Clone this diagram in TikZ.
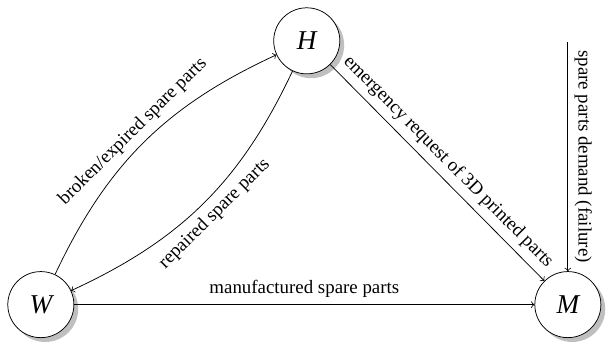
\documentclass[tikz,border=0pt]{standalone}
\usepackage{fontspec}
\setmainfont{Liberation Serif}
\usetikzlibrary{arrows,shapes,shadows}

\begin{document}
\begin{tikzpicture}[site/.style={circle,draw,fill=white,drop shadow,minimum size=1.23cm,font=\Large\itshape}]
\useasboundingbox (0,0) rectangle (11.28,6.40);
% Define the three sites

\node[site] (H) at (5.71,5.64) {H};
\node[site] (W) at (0.76,0.73) {W};
\node[site] (M) at (10.57,0.73) {M};
\path (10.57,5.62) coordinate (demand);

% Draw the flows between the sites
\draw[->] (W) to[bend left=20] node[above,sloped] {broken/expired spare parts} (H);
\draw[->] (H) to[bend left=20] node[below,sloped] {repaired spare parts} (W);
\draw[->] (H) -- node[above,sloped] {emergency request of 3D printed parts} (M);
\draw[->] (W) -- node[above] {manufactured spare parts} (M);

% Add the demand arrow
\draw[->] (demand) -- node[above,sloped] {spare parts demand (failure)} (M);
\end{tikzpicture}
\end{document}
